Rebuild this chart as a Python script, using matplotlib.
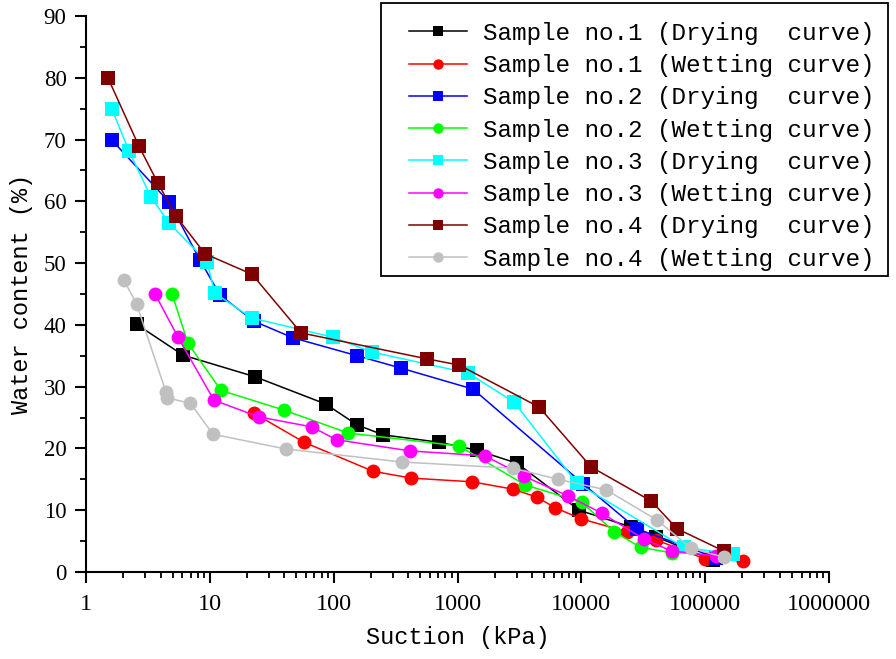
import matplotlib
matplotlib.use('Agg')
import matplotlib.pyplot as plt
from matplotlib.patches import Rectangle
from matplotlib.ticker import LogLocator, FixedLocator, MultipleLocator, NullFormatter

# Suction (kPa) and water content (%)
s1_dry_x = [2.56, 6.08, 23.2, 86, 155, 251, 710, 1440, 3030, 9600, 25000, 40200, 116000]
s1_dry_y = [40.1, 35.1, 31.6, 27.2, 23.8, 22.2, 21.0, 19.7, 17.6, 10.0, 7.3, 5.7, 1.9]

s1_wet_x = [22.7, 57.7, 208, 422, 1313, 2813, 4396, 6140, 10000, 23400, 40200, 100000, 203000]
s1_wet_y = [25.7, 21.0, 16.3, 15.2, 14.6, 13.4, 12.1, 10.4, 8.6, 6.5, 5.2, 2.1, 1.8]

s2_dry_x = [1.62, 4.68, 8.33, 12.1, 22.7, 47.0, 155, 350, 1337, 10300, 28000, 123000]
s2_dry_y = [69.9, 59.9, 50.5, 44.8, 40.6, 37.9, 35.0, 33.0, 29.6, 14.3, 7.0, 2.3]

s2_wet_x = [4.95, 6.67, 12.3, 39.7, 131, 1030, 3516, 10050, 18400, 30100, 53600]
s2_wet_y = [45.0, 37.0, 29.4, 26.2, 22.5, 20.4, 14.1, 11.3, 6.5, 4.0, 3.1]

s3_dry_x = [1.62, 2.23, 3.35, 4.68, 9.49, 11.0, 21.9, 98.9, 204, 1218, 2864, 9200, 67000, 167000]
s3_dry_y = [74.9, 68.1, 60.7, 56.5, 50.2, 45.1, 41.1, 38.0, 35.6, 32.2, 27.5, 14.4, 4.0, 2.9]

s3_wet_x = [3.61, 5.54, 10.8, 25.0, 66.3, 106, 414, 1671, 3450, 7820, 14700, 32200, 53600, 123000]
s3_wet_y = [45.0, 38.0, 27.8, 25.1, 23.5, 21.4, 19.6, 18.8, 15.5, 12.3, 9.5, 5.3, 3.4, 2.6]

s4_dry_x = [1.51, 2.68, 3.82, 5.33, 9.15, 21.9, 54.6, 568, 1030, 4560, 12000, 36600, 59400, 141000]
s4_dry_y = [79.9, 68.9, 62.9, 57.6, 51.5, 48.2, 38.7, 34.5, 33.5, 26.7, 17.0, 11.5, 7.0, 3.4]

s4_wet_x = [2.03, 2.56, 4.43, 4.5, 6.98, 10.6, 41.3, 357, 2813, 6500, 15850, 40900, 76300, 141000]
s4_wet_y = [47.2, 43.4, 29.1, 28.2, 27.3, 22.3, 19.9, 17.8, 16.8, 15.0, 13.3, 8.4, 3.9, 2.4]

labels = [
    'Sample no.1 (Drying  curve)',
    'Sample no.1 (Wetting curve)',
    'Sample no.2 (Drying  curve)',
    'Sample no.2 (Wetting curve)',
    'Sample no.3 (Drying  curve)',
    'Sample no.3 (Wetting curve)',
    'Sample no.4 (Drying  curve)',
    'Sample no.4 (Wetting curve)',
]
colors = ['#000000', '#ff0000', '#0000ff', '#00ff00',
          '#00ffff', '#ff00ff', '#800000', '#c0c0c0']
markers = ['s', 'o', 's', 'o', 's', 'o', 's', 'o']

series = [
    (s1_dry_x, s1_dry_y), (s1_wet_x, s1_wet_y),
    (s2_dry_x, s2_dry_y), (s2_wet_x, s2_wet_y),
    (s3_dry_x, s3_dry_y), (s3_wet_x, s3_wet_y),
    (s4_dry_x, s4_dry_y), (s4_wet_x, s4_wet_y),
]

W, H = 896, 659
fig = plt.figure(figsize=(W / 100, H / 100), dpi=100)
ax = fig.add_axes([86 / W, 1 - 572 / H, 743 / W, 556 / H])

for (x, y), lab, c, m in zip(series, labels, colors, markers):
    ax.plot(x, y, color=c, marker=m, markersize=10, markeredgewidth=0,
            linewidth=1.1, label=lab)

ax.set_xscale('log')
ax.set_xlim(1, 1e6)
ax.set_ylim(0, 90)

# axis look: only left and bottom spines, ticks outward
for side in ['top', 'right']:
    ax.spines[side].set_visible(False)
for side in ['left', 'bottom']:
    ax.spines[side].set_linewidth(1.5)

ax.xaxis.set_major_locator(FixedLocator([1, 10, 100, 1000, 10000, 100000, 1000000]))
ax.xaxis.set_minor_locator(LogLocator(base=10, subs=range(2, 10), numticks=20))
ax.xaxis.set_minor_formatter(NullFormatter())
ax.set_xticklabels(['1', '10', '100', '1000', '10000', '100000', '1000000'])
ax.yaxis.set_major_locator(MultipleLocator(10))
ax.yaxis.set_minor_locator(MultipleLocator(5))

ax.tick_params(which='major', direction='out', length=8, width=1.5)
ax.tick_params(which='minor', direction='out', length=4, width=1.3)
ax.tick_params(axis='x', which='major', pad=8)
ax.tick_params(axis='y', which='major', pad=6)

for t in ax.get_xticklabels():
    t.set_fontfamily('Liberation Serif')
    t.set_fontsize(17.5)
for t in ax.get_yticklabels():
    t.set_fontfamily('Liberation Serif')
    t.set_fontsize(16.5)

ax.set_xlabel('Suction (kPa)', family='Liberation Mono', fontsize=17, labelpad=8)
ax.set_ylabel('Water content (%)', family='Liberation Mono', fontsize=17, labelpad=8)

# legend entries without frame; the box is drawn separately so the
# padding on the left can be wider than on the right, as in the original
leg = ax.legend(loc='upper left', bbox_to_anchor=(409 / W, 1 - 22 / H),
                bbox_transform=fig.transFigure, frameon=False,
                borderaxespad=0, borderpad=0,
                prop={'family': 'Liberation Mono', 'size': 17.5},
                handlelength=2.4, handletextpad=0.66, labelspacing=0.38,
                markerscale=0.75)
fig.patches.append(Rectangle((381 / W, 1 - 276 / H), 507 / W, 273 / H,
                             transform=fig.transFigure, fill=False,
                             edgecolor='black', linewidth=1.3))

fig.savefig('out.png', dpi=100)
